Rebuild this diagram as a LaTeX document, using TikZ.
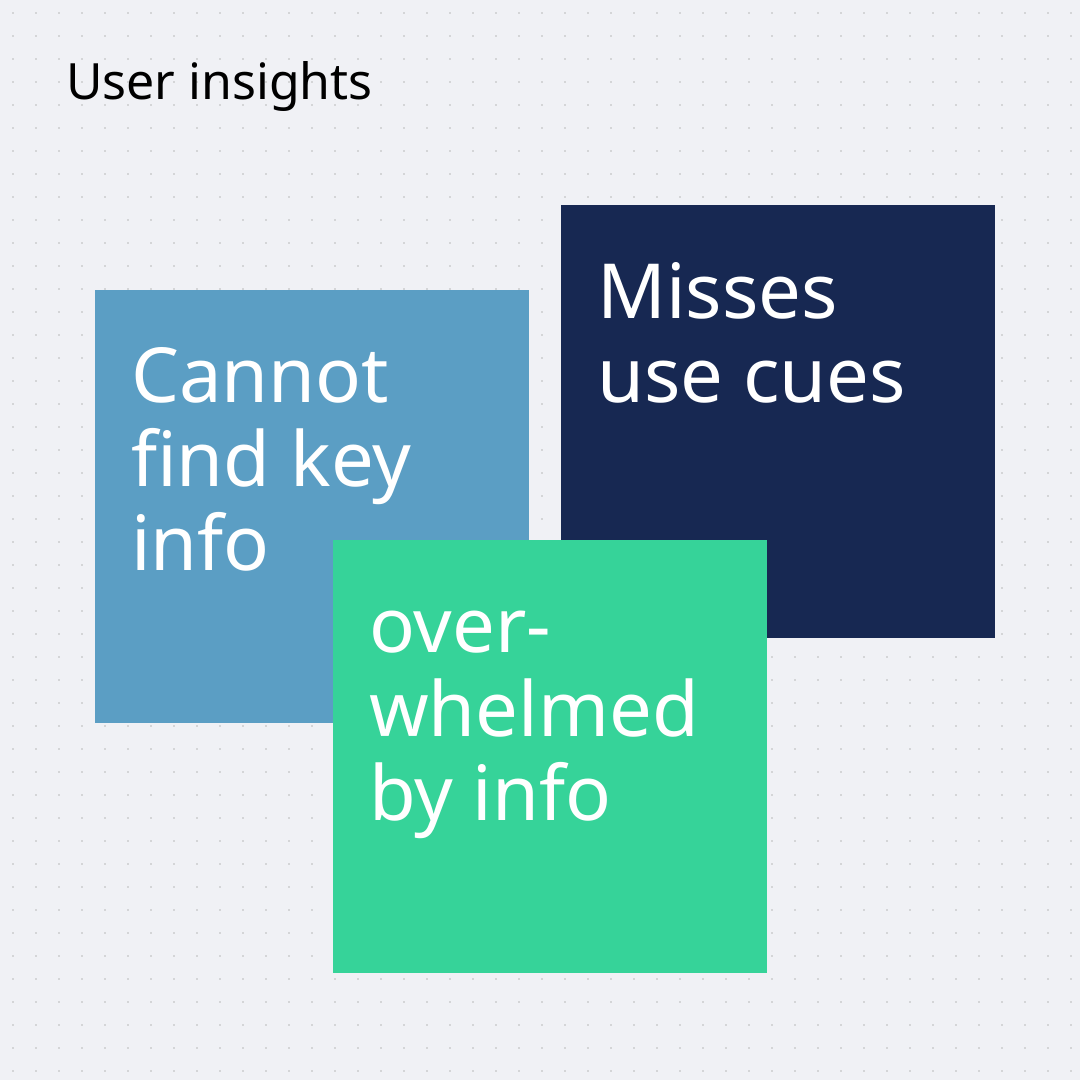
\documentclass[tikz,border=0pt]{standalone}
\usepackage{fontspec}
\setmainfont{Noto Sans}
\begin{document}
\begin{tikzpicture}[x=1pt,y=-1pt,
  card/.style={anchor=north west,inner sep=0pt,minimum width=434pt,minimum height=433pt},
  cardtext/.style={anchor=base west,align=left,text=white,font=\fontsize{76}{84}\selectfont,inner sep=0pt}]
\fill[fill={rgb,255:red,240;green,241;blue,245}] (0,0) rectangle (1080,1080);
\useasboundingbox (0,0) rectangle (1080,1080);
\foreach \i in {0,...,46}{\foreach \j in {0,...,46}{
  \fill[gray!55] (13+23*\i,13+23*\j) circle (0.9);}}
\node[anchor=base west,inner sep=0pt,font=\fontsize{50}{60}\selectfont] (title) at (66,99) {User insights};
\node[card,fill={rgb,255:red,91;green,158;blue,196}] (blue) at (95,290) {};
\node[card,fill={rgb,255:red,23;green,40;blue,82}] (navy) at (561,205) {};
\node[card,fill={rgb,255:red,54;green,211;blue,153}] (green) at (333,540) {};
\node[cardtext] (t1) at (131,570) {Cannot\\find key\\info};
\node[cardtext] (t2) at (597,402) {Misses\\use cues};
\node[cardtext] (t3) at (369,820) {over-\\whelmed\\by info};
\end{tikzpicture}
\end{document}
